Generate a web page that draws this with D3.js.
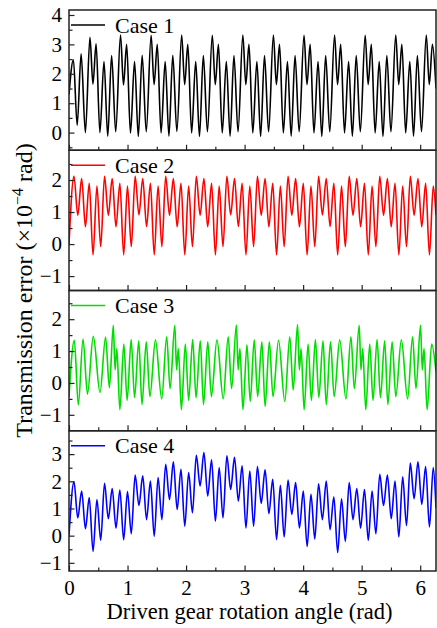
<!DOCTYPE html>
<html>
<head>
<meta charset="utf-8">
<script src="https://cdn.jsdelivr.net/npm/d3@7"></script>
<style>
  body { margin: 0; background: #fff; }
  svg text { font-family: "Liberation Serif", "Times New Roman", serif; fill: #000; }
</style>
</head>
<body>
<svg id="chart" width="437" height="628"></svg>
<script>
// Transmission error of the driven gear for four cases, x in rad, y in 1e-4 rad.
const caseNames = ["Case 1", "Case 2", "Case 3", "Case 4"];
const caseColors = ["#000000", "#ff0000", "#00dd00", "#0000ff"];
const xTickValues = [0, 1, 2, 3, 4, 5, 6];
const xMinorValues = [0.5, 1.5, 2.5, 3.5, 4.5, 5.5];
const yTickValues = [[0, 1, 2, 3, 4], [-1, 0, 1, 2], [-1, 0, 1, 2], [-1, 0, 1, 2, 3]];
const yMinorValues = [[-0.5, 0.5, 1.5, 2.5, 3.5], [-0.5, 0.5, 1.5, 2.5], [-0.5, 0.5, 1.5, 2.5], [-0.5, 0.5, 1.5, 2.5, 3.5]];
const yDomains = [[-0.6, 4.17], [-1.45, 2.93], [-1.5, 2.9], [-1.3, 3.86]];
const xDomain = [0, 6.27];

// [angle (rad), transmission error] at the turning points of each trace
const case1 = [
  [0, 1.3], [0.075, 2.48], [0.14, 0.25], [0.207, 2.68], [0.28, 0.0],
  [0.358, 3.24], [0.409, 1.65], [0.463, 3.02], [0.528, 0.0], [0.598, 2.42], [0.662, -0.12], [0.728, 2.62], [0.798, 0.03],
  [0.880, 3.32], [0.931, 1.62], [0.985, 3.0], [1.050, -0.02], [1.120, 2.42], [1.184, -0.13], [1.250, 2.63], [1.320, 0.03],
  [1.403, 3.31], [1.454, 1.63], [1.508, 3.0], [1.573, -0.01], [1.643, 2.42], [1.707, -0.12], [1.773, 2.63], [1.843, 0.04],
  [1.925, 3.32], [1.976, 1.63], [2.030, 3.0], [2.095, -0.01], [2.165, 2.42], [2.229, -0.13], [2.295, 2.62], [2.365, 0.03],
  [2.448, 3.31], [2.499, 1.63], [2.553, 3.0], [2.618, -0.01], [2.688, 2.42], [2.752, -0.12], [2.818, 2.62], [2.888, 0.03],
  [2.970, 3.32], [3.021, 1.63], [3.075, 3.0], [3.140, -0.01], [3.210, 2.42], [3.274, -0.13], [3.340, 2.62], [3.410, 0.03],
  [3.492, 3.32], [3.543, 1.63], [3.597, 3.0], [3.662, -0.01], [3.732, 2.42], [3.796, -0.12], [3.862, 2.62], [3.932, 0.03],
  [4.015, 3.31], [4.066, 1.63], [4.120, 3.0], [4.185, -0.01], [4.255, 2.42], [4.319, -0.13], [4.385, 2.62], [4.455, 0.03],
  [4.537, 3.32], [4.588, 1.63], [4.642, 3.0], [4.707, -0.01], [4.777, 2.42], [4.841, -0.12], [4.907, 2.62], [4.977, 0.03],
  [5.060, 3.31], [5.111, 1.63], [5.165, 3.0], [5.230, -0.01], [5.300, 2.42], [5.364, -0.13], [5.430, 2.62], [5.500, 0.03],
  [5.582, 3.32], [5.633, 1.63], [5.687, 3.0], [5.752, -0.01], [5.822, 2.42], [5.886, -0.12], [5.952, 2.62], [6.022, 0.03],
  [6.104, 3.32], [6.155, 1.63], [6.209, 3.0], [6.27, 1.5]
];

const case2 = [
  [0, 0.0],
  [0.085, 2.12], [0.150, 0.90], [0.216, 2.05], [0.281, 0.54], [0.346, 1.90], [0.411, -0.34], [0.477, 1.81], [0.542, -0.08],
  [0.607, 2.12], [0.672, 0.90], [0.738, 2.05], [0.803, 0.54], [0.869, 1.90], [0.934, -0.34], [0.999, 1.81], [1.064, -0.08],
  [1.130, 2.12], [1.195, 0.91], [1.260, 2.05], [1.325, 0.55], [1.391, 1.90], [1.456, -0.34], [1.522, 1.81], [1.587, -0.08],
  [1.652, 2.12], [1.717, 0.90], [1.783, 2.05], [1.848, 0.54], [1.913, 1.90], [1.978, -0.34], [2.044, 1.81], [2.109, -0.08],
  [2.175, 2.12], [2.240, 0.90], [2.305, 2.05], [2.370, 0.54], [2.436, 1.90], [2.501, -0.34], [2.566, 1.81], [2.631, -0.08],
  [2.697, 2.12], [2.762, 0.91], [2.828, 2.05], [2.893, 0.55], [2.958, 1.90], [3.023, -0.34], [3.089, 1.81], [3.154, -0.08],
  [3.219, 2.12], [3.284, 0.90], [3.350, 2.05], [3.415, 0.54], [3.481, 1.90], [3.546, -0.34], [3.611, 1.81], [3.676, -0.08],
  [3.742, 2.12], [3.807, 0.90], [3.872, 2.05], [3.937, 0.54], [4.003, 1.90], [4.068, -0.34], [4.134, 1.81], [4.199, -0.08],
  [4.264, 2.12], [4.329, 0.91], [4.395, 2.05], [4.460, 0.55], [4.525, 1.90], [4.590, -0.34], [4.656, 1.81], [4.721, -0.08],
  [4.787, 2.12], [4.852, 0.90], [4.917, 2.05], [4.982, 0.54], [5.048, 1.90], [5.113, -0.34], [5.178, 1.81], [5.243, -0.08],
  [5.309, 2.12], [5.374, 0.90], [5.440, 2.05], [5.505, 0.54], [5.570, 1.90], [5.635, -0.34], [5.701, 1.81], [5.766, -0.08],
  [5.831, 2.12], [5.896, 0.90], [5.962, 2.05], [6.027, 0.54], [6.093, 1.90], [6.158, -0.34], [6.223, 1.81], [6.27, 0.9]
];

const case3 = [
  [0, -0.43], [0.091, 1.34], [0.159, -0.69], [0.24, 1.38], [0.315, -0.35], [0.415, 1.46], [0.53, -0.3], [0.625, 1.44], [0.69, -0.15],
  [0.757, 1.81], [0.787, 0.41], [0.817, 1.08], [0.869, -0.84], [0.937, 1.22], [0.993, -0.55], [1.062, 1.36], [1.120, -0.46],
  [1.192, 1.32], [1.247, -0.68], [1.320, 1.29], [1.382, -0.43], [1.477, 1.35], [1.584, -0.5], [1.669, 1.45], [1.727, -0.18],
  [1.808, 1.81], [1.838, 0.41], [1.868, 1.08], [1.920, -0.84], [1.988, 1.22], [2.044, -0.55], [2.113, 1.36], [2.171, -0.46],
  [2.243, 1.32], [2.298, -0.68], [2.371, 1.29], [2.433, -0.43], [2.528, 1.35], [2.635, -0.5], [2.720, 1.45], [2.778, -0.18],
  [2.860, 1.82], [2.890, 0.41], [2.920, 1.08], [2.972, -0.84], [3.040, 1.20], [3.096, -0.58], [3.165, 1.35], [3.223, -0.43],
  [3.295, 1.29], [3.350, -0.74], [3.423, 1.29], [3.485, -0.43], [3.580, 1.34], [3.687, -0.58], [3.772, 1.45], [3.830, -0.22],
  [3.905, 1.83], [3.935, 0.41], [3.965, 1.08], [4.017, -0.84], [4.085, 1.22], [4.141, -0.55], [4.210, 1.36], [4.268, -0.46],
  [4.340, 1.32], [4.395, -0.68], [4.468, 1.29], [4.530, -0.43], [4.625, 1.35], [4.732, -0.5], [4.817, 1.45], [4.875, -0.18],
  [4.958, 1.81], [4.988, 0.41], [5.018, 1.08], [5.070, -0.84], [5.138, 1.22], [5.194, -0.55], [5.263, 1.36], [5.321, -0.46],
  [5.393, 1.32], [5.448, -0.68], [5.521, 1.29], [5.583, -0.43], [5.678, 1.35], [5.785, -0.5], [5.870, 1.45], [5.928, -0.18],
  [6.006, 1.81], [6.036, 0.41], [6.066, 1.08], [6.118, -0.84], [6.196, 1.22], [6.27, 0.35]
];

const case4 = [
  [0, 0.0],
  [0.085, 1.98], [0.150, 0.65], [0.216, 1.64], [0.281, 0.26], [0.346, 1.40], [0.411, -0.58], [0.477, 1.33], [0.542, -0.17],
  [0.607, 1.93], [0.672, 0.62], [0.738, 1.73], [0.803, 0.28], [0.869, 1.68], [0.934, -0.15], [0.999, 1.62], [1.064, 0.07],
  [1.130, 2.23], [1.195, 1.11], [1.260, 2.20], [1.325, 0.59], [1.391, 2.01], [1.456, -0.02], [1.522, 2.14], [1.587, 0.59],
  [1.652, 2.63], [1.717, 1.33], [1.783, 2.72], [1.848, 0.96], [1.913, 2.44], [1.978, 0.35], [2.044, 2.32], [2.109, 0.84],
  [2.175, 2.96], [2.240, 1.83], [2.305, 3.06], [2.370, 1.46], [2.436, 2.79], [2.501, 0.53], [2.566, 2.51], [2.631, 0.65],
  [2.697, 2.94], [2.762, 1.70], [2.828, 2.88], [2.893, 1.27], [2.958, 2.57], [3.023, 0.28], [3.089, 2.38], [3.154, 0.35],
  [3.219, 2.54], [3.284, 1.19], [3.350, 2.42], [3.415, 0.81], [3.481, 2.07], [3.546, -0.15], [3.611, 1.85], [3.676, -0.05],
  [3.742, 2.05], [3.807, 0.78], [3.872, 1.95], [3.937, 0.28], [4.003, 1.64], [4.068, -0.40], [4.134, 1.52], [4.199, -0.12],
  [4.264, 1.91], [4.329, 0.59], [4.395, 2.01], [4.460, 0.22], [4.525, 1.43], [4.590, -0.62], [4.656, 1.36], [4.721, -0.21],
  [4.787, 1.95], [4.852, 0.59], [4.917, 1.73], [4.982, 0.28], [5.048, 1.70], [5.113, -0.17], [5.178, 1.64], [5.243, 0.07],
  [5.309, 2.26], [5.374, 1.11], [5.440, 2.23], [5.505, 0.62], [5.570, 2.01], [5.635, -0.05], [5.701, 2.17], [5.766, 0.37],
  [5.831, 2.67], [5.896, 1.36], [5.962, 2.72], [6.027, 1.15], [6.093, 2.54], [6.158, 0.32], [6.223, 2.51], [6.27, 1.02]
];

const caseSeries = [case1, case2, case3, case4];

// layout
const svg = d3.select("#chart");
const plotLeft = 69, plotRight = 436, plotTop = 10, plotBottom = 571;
const panelH = (plotBottom - plotTop) / 4;
const frameColor = "#222";
const intFormat = d3.format("d");

const x = d3.scaleLinear().domain(xDomain).range([plotLeft, plotRight]);

caseSeries.forEach((pts, i) => {
  const y0 = plotTop + i * panelH, y1 = y0 + panelH;
  const y = d3.scaleLinear().domain(yDomains[i]).range([y1, y0]);
  const g = svg.append("g");

  const clipId = "clip" + i;
  g.append("clipPath").attr("id", clipId)
    .append("rect").attr("x", plotLeft).attr("y", y0).attr("width", plotRight - plotLeft).attr("height", panelH);

  const line = d3.line().x(d => x(d[0])).y(d => y(d[1])).curve(d3.curveMonotoneX);
  g.append("path").datum(pts)
    .attr("clip-path", `url(#${clipId})`)
    .attr("fill", "none").attr("stroke", caseColors[i]).attr("stroke-width", 1.6)
    .attr("stroke-linejoin", "round")
    .attr("d", line);

  // left axis: major ticks with labels, minor ticks, all pointing inward
  const yAxis = g.append("g").attr("transform", `translate(${plotLeft},0)`)
    .call(d3.axisLeft(y).tickValues(yTickValues[i]).tickSize(-5.5).tickPadding(7).tickFormat(intFormat));
  const yMinor = g.append("g").attr("transform", `translate(${plotLeft},0)`)
    .call(d3.axisLeft(y).tickValues(yMinorValues[i]).tickSize(-3.5).tickFormat(""));

  // bottom axis of each panel
  const xAxis = g.append("g").attr("transform", `translate(0,${y1})`)
    .call(d3.axisBottom(x).tickValues(xTickValues).tickSize(-5.5).tickPadding(9)
      .tickFormat(i === 3 ? intFormat : ""));
  const xMinor = g.append("g").attr("transform", `translate(0,${y1})`)
    .call(d3.axisBottom(x).tickValues(xMinorValues).tickSize(-3.5).tickFormat(""));

  [yAxis, yMinor, xAxis, xMinor].forEach(a => {
    a.select(".domain").remove();
    a.selectAll(".tick line").attr("stroke", frameColor).attr("stroke-width", 1.2);
    a.selectAll(".tick text").attr("font-size", 21).attr("font-family", "Liberation Serif").attr("fill", "#000");
  });

  // frame
  g.append("rect").attr("x", plotLeft).attr("y", y0).attr("width", plotRight - plotLeft).attr("height", panelH)
    .attr("fill", "none").attr("stroke", frameColor).attr("stroke-width", 1.5);

  // legend
  const ly = y0 + 15;
  g.append("line").attr("x1", plotLeft + 2).attr("x2", plotLeft + 36).attr("y1", ly).attr("y2", ly)
    .attr("stroke", caseColors[i]).attr("stroke-width", 1.6);
  g.append("text").attr("x", plotLeft + 46).attr("y", ly + 7.5).attr("font-size", 22).text(caseNames[i]);
});

// axis titles
svg.append("text")
  .attr("x", (plotLeft + plotRight) / 2 - 3).attr("y", 619)
  .attr("text-anchor", "middle").attr("font-size", 22.5)
  .text("Driven gear rotation angle (rad)");

const yt = svg.append("text")
  .attr("transform", `translate(32,${(plotTop + plotBottom) / 2})rotate(-90)`)
  .attr("text-anchor", "middle").attr("font-size", 24);
yt.append("tspan").text("Transmission error (\u00d710");
yt.append("tspan").attr("dy", -9).attr("font-size", 16).text("\u22124");
yt.append("tspan").attr("dy", 9).text(" rad)");
</script>
</body>
</html>
